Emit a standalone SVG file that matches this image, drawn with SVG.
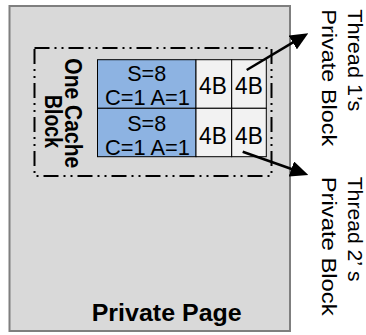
<svg xmlns="http://www.w3.org/2000/svg" width="366" height="335" viewBox="0 0 366 335">
<style>
.page{fill:#d9d9d9;stroke:#7f7f7f;stroke-width:2}
.dash{fill:none;stroke:#000;stroke-width:2;stroke-dasharray:15 5 2 5 2 5}
.blue{fill:#8db3e2;stroke:#000;stroke-width:1}
.cell{fill:#f2f2f2;stroke:#000;stroke-width:1}
.t{font-family:"Liberation Sans",Arial,sans-serif;fill:#000}
.b{font-weight:bold}
.arrow{stroke:#000;stroke-width:2.5;fill:none;marker-end:url(#ah)}
</style>
<defs>
<marker id="ah" markerUnits="userSpaceOnUse" markerWidth="18" markerHeight="16" viewBox="0 0 18 16" refX="10" refY="8" orient="auto">
<path d="M0,0 L18,8 L0,16 z" fill="#000"/>
</marker>
</defs>
<g id="private-page">
<rect class="page" x="9.5" y="6" width="280.5" height="325"/>
<text class="t b" x="166.7" y="321" font-size="24.5" text-anchor="middle" textLength="150" lengthAdjust="spacingAndGlyphs">Private Page</text>
</g>
<g id="cache-block">
<rect class="dash" x="34.5" y="48" width="237" height="128"/>
<text class="t b" font-size="24" transform="translate(65,58.3) rotate(90)" textLength="110" lengthAdjust="spacingAndGlyphs">One Cache</text>
<text class="t b" font-size="24" transform="translate(45,95) rotate(90)" textLength="53" lengthAdjust="spacingAndGlyphs">Block</text>
</g>
<g id="set1">
<rect class="blue" x="97.5" y="59.7" width="98.5" height="48.6"/>
<text class="t" x="146.7" y="81" font-size="21.5" text-anchor="middle" textLength="39" lengthAdjust="spacingAndGlyphs">S=8</text>
<text class="t" x="147.5" y="105" font-size="21.5" text-anchor="middle" textLength="85" lengthAdjust="spacingAndGlyphs">C=1 A=1</text>
</g>
<g id="set2">
<rect class="blue" x="97.5" y="108.3" width="98.5" height="48.4"/>
<text class="t" x="146.7" y="131" font-size="21.5" text-anchor="middle" textLength="39" lengthAdjust="spacingAndGlyphs">S=8</text>
<text class="t" x="147.5" y="155" font-size="21.5" text-anchor="middle" textLength="85" lengthAdjust="spacingAndGlyphs">C=1 A=1</text>
</g>
<g id="cell-1a">
<rect class="cell" x="196" y="59.7" width="35.7" height="48.6"/>
<text class="t" x="212.9" y="94.3" font-size="23.5" text-anchor="middle" textLength="27.7" lengthAdjust="spacingAndGlyphs">4B</text>
</g>
<g id="cell-1b">
<rect class="cell" x="231.7" y="59.7" width="34.6" height="48.6"/>
<text class="t" x="248.9" y="94.3" font-size="23.5" text-anchor="middle" textLength="27.7" lengthAdjust="spacingAndGlyphs">4B</text>
</g>
<g id="cell-2a">
<rect class="cell" x="196" y="108.3" width="35.7" height="48.4"/>
<text class="t" x="212.9" y="144.3" font-size="23.5" text-anchor="middle" textLength="27.7" lengthAdjust="spacingAndGlyphs">4B</text>
</g>
<g id="cell-2b">
<rect class="cell" x="231.7" y="108.3" width="34.6" height="48.4"/>
<text class="t" x="248.9" y="144.3" font-size="23.5" text-anchor="middle" textLength="27.7" lengthAdjust="spacingAndGlyphs">4B</text>
</g>
<g id="thread1-label">
<text class="t" font-size="20.5" transform="translate(348,9.3) rotate(90)" textLength="102" lengthAdjust="spacingAndGlyphs">Thread 1’s</text>
<text class="t" font-size="20.5" transform="translate(322,9.3) rotate(90)" textLength="137" lengthAdjust="spacingAndGlyphs">Private Block</text>
</g>
<g id="thread2-label">
<text class="t" font-size="20.5" transform="translate(348,176.7) rotate(90)" textLength="105" lengthAdjust="spacingAndGlyphs">Thread 2’ s</text>
<text class="t" font-size="20.5" transform="translate(322,176.7) rotate(90)" textLength="139" lengthAdjust="spacingAndGlyphs">Private Block</text>
</g>
<g id="connectors">
<line class="arrow" x1="246.7" y1="70" x2="301.4" y2="37.4"/>
<line class="arrow" x1="242.7" y1="151.7" x2="300.8" y2="172.3"/>
</g>
</svg>
